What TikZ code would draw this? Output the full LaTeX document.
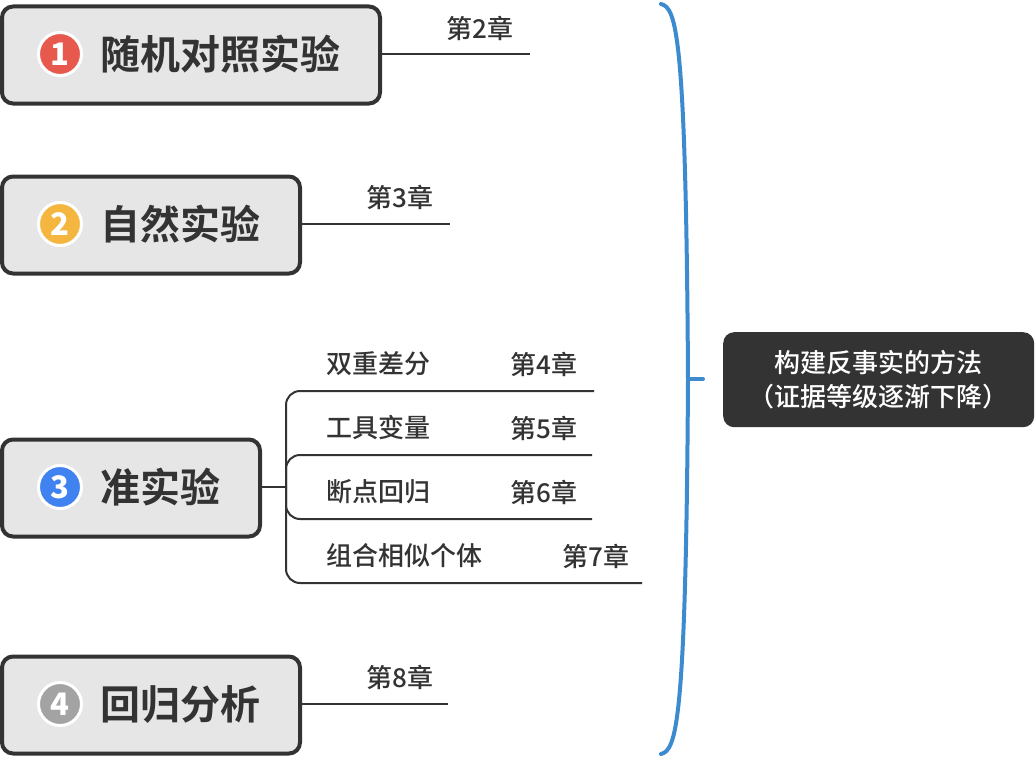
\documentclass[tikz,border=0pt]{standalone}
\usepackage{fontspec}
\setmainfont{Noto Sans CJK SC Medium}
\newfontfamily\cjkmed{Noto Sans CJK SC Bold}
\newfontfamily\numfont{Noto Sans CJK SC Black}
\definecolor{ink}{HTML}{333333}
\definecolor{panel}{HTML}{E6E6E6}
\definecolor{brace}{HTML}{3D8BCF}
\definecolor{bred}{HTML}{E8594D}
\definecolor{byel}{HTML}{F4B63F}
\definecolor{bblu}{HTML}{3F82F0}
\definecolor{bgry}{HTML}{A3A3A3}
\tikzset{
  x=1pt,y=-1pt,
  topic/.style={draw=ink,fill=panel,line width=4pt,rounded corners=11pt,anchor=west,inner sep=0pt,minimum height=97pt},
  title/.style={text=ink,inner sep=0pt,font=\fontsize{40}{40}\selectfont\cjkmed},
  badge/.style={circle,draw=white,line width=3pt,minimum size=43pt,inner sep=0pt,text=white,font=\fontsize{31}{31}\selectfont\numfont},
  link/.style={draw=ink,line width=2pt},
  lab/.style={text=ink,inner sep=0pt,font=\fontsize{26}{26}\selectfont,anchor=west},
}
\begin{document}
\begin{tikzpicture}
\useasboundingbox (0,0) rectangle (1036,760);
% topics
\node[topic,minimum width=378pt] (t1) at (0,55) {};
\node[topic,minimum width=298pt] (t2) at (0,225) {};
\node[topic,minimum width=258pt] (t3) at (0,488) {};
\node[topic,minimum width=298pt] (t4) at (0,705) {};
\node[badge,fill=bred] (b1) at (60,54) {1};
\node[badge,fill=byel] (b2) at (60,224) {2};
\node[badge,fill=bblu] (b3) at (60,487) {3};
\node[badge,fill=bgry] (b4) at (60,704) {4};
\node[title] (n1) at (220,54) {随机对照实验};
\node[title] (n2) at (180,224) {自然实验};
\node[title] (n3) at (160,487) {准实验};
\node[title] (n4) at (180,704) {回归分析};
% free ends
\coordinate (e1) at (530,54);
\coordinate (e2) at (450,224);
\coordinate (e4) at (448,704);
\coordinate (j) at (286,487);
\coordinate (r1) at (594,391);
\coordinate (r2) at (592,455);
\coordinate (r3) at (592,519);
\coordinate (r4) at (642,583);
\draw[link] (t1.east |- e1) -- (e1);
\draw[link] (t2.east |- e2) -- (e2);
\draw[link] (t4.east |- e4) -- (e4);
\draw[link] (t3.east |- j) -- (j);
\draw[link,rounded corners=14pt] (j) -- (286,391) -- (r1);
\draw[link,rounded corners=14pt] (j) -- (286,455) -- (r2);
\draw[link,rounded corners=14pt] (j) -- (286,519) -- (r3);
\draw[link,rounded corners=14pt] (j) -- (286,583) -- (r4);
% labels
\node[lab] (c2) at (446,28) {第2章};
\node[lab] (c3) at (366,197) {第3章};
\node[lab] (a1) at (326,364) {双重差分};
\node[lab] (c4) at (510,364) {第4章};
\node[lab] (a2) at (326,428) {工具变量};
\node[lab] (c5) at (510,428) {第5章};
\node[lab] (a3) at (326,492) {断点回归};
\node[lab] (c6) at (510,492) {第6章};
\node[lab] (a4) at (326,556) {组合相似个体};
\node[lab] (c7) at (562,556) {第7章};
\node[lab] (c8) at (366,677) {第8章};
% summary
\node[fill=ink,rounded corners=11pt,minimum width=311pt,minimum height=95pt,inner sep=0pt,anchor=north west,text=white,align=center,font=\fontsize{26}{34}\selectfont] (s) at (723,332) {\raisebox{1pt}{构建反事实的方法}\\\raisebox{1pt}{（证据等级逐渐下降）}};
\coordinate (bt) at (661,4);
\coordinate (bb) at (661,754);
\coordinate (bm) at (688,379);
\draw[brace,line width=4pt,line cap=round] (bt) .. controls (676,8) and (686,30) .. (bm) .. controls (686,728) and (676,750) .. (bb);
\draw[brace,line width=4pt,line cap=round] (bm) -- (703,379);
\end{tikzpicture}
\end{document}
